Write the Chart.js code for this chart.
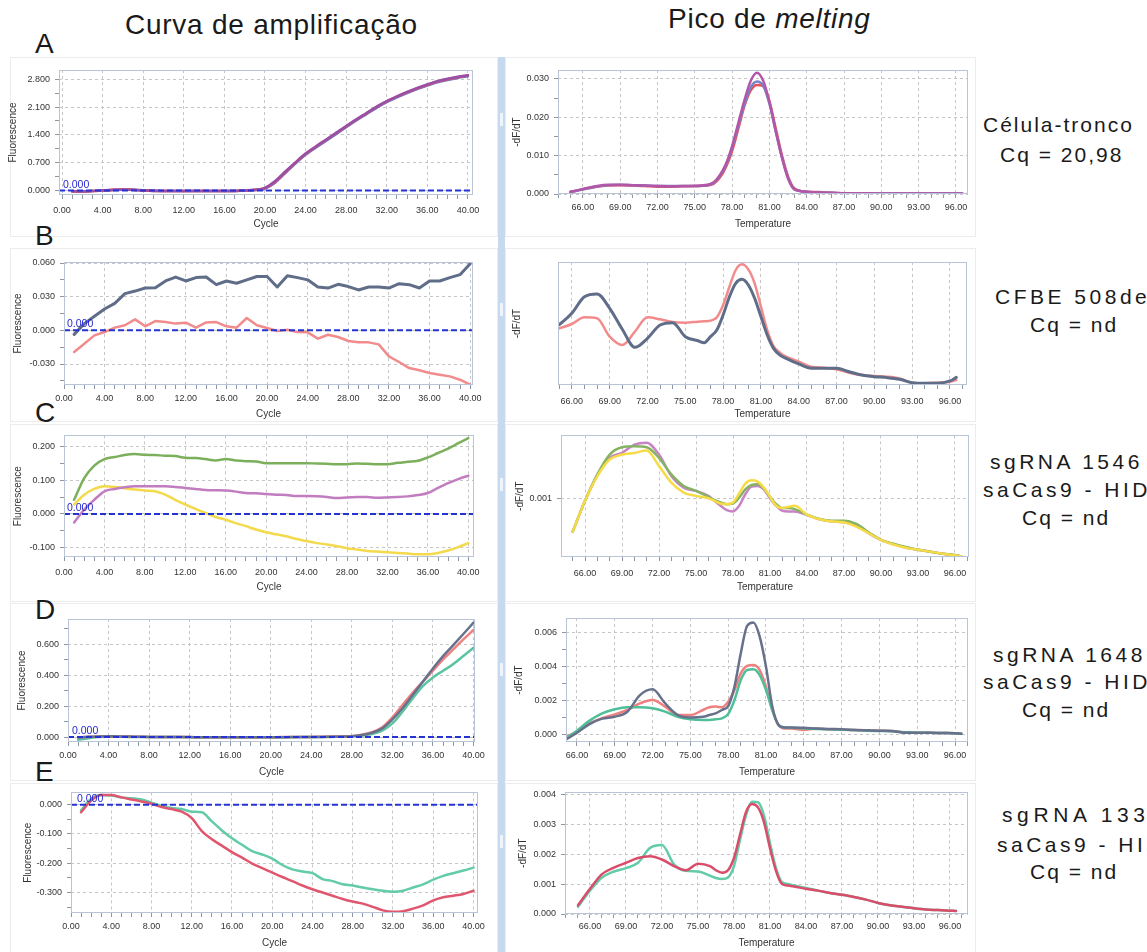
<!DOCTYPE html>
<html lang="pt">
<head>
<meta charset="utf-8">
<title>Curva de amplificação e pico de melting</title>
<script src="https://cdn.jsdelivr.net/npm/chart.js@4.4.1/dist/chart.umd.min.js"></script>
<style>
html,body{margin:0;padding:0;background:#fff}
body{position:relative;width:1147px;height:952px;overflow:hidden;font-family:"Liberation Sans",Arial,sans-serif;color:#1a1a1a}
canvas.plot{position:absolute}
.t{position:absolute;white-space:nowrap;line-height:1}
.head{font-size:28px;letter-spacing:0.75px}
.tag{font-size:28px}
.side{position:absolute;white-space:nowrap;font-size:21px;letter-spacing:2px;line-height:28px}
.wide{letter-spacing:3.5px}
.frame{position:absolute;border:1px solid #ececec;box-sizing:border-box}
.bar{position:absolute;left:498px;top:57px;width:7px;height:895px;background:#c7d9ee}
.notch{position:absolute;left:500px;width:3px;height:13px;background:#eef4fb}
</style>
</head>
<body>

<div class="frame" style="left:10px;top:57px;width:488px;height:180px"></div>
<div class="frame" style="left:10px;top:248px;width:488px;height:174px"></div>
<div class="frame" style="left:10px;top:424px;width:488px;height:178px"></div>
<div class="frame" style="left:10px;top:603px;width:488px;height:178px"></div>
<div class="frame" style="left:10px;top:783px;width:488px;height:175px"></div>
<div class="frame" style="left:505px;top:57px;width:471px;height:180px"></div>
<div class="frame" style="left:505px;top:248px;width:471px;height:174px"></div>
<div class="frame" style="left:505px;top:424px;width:471px;height:178px"></div>
<div class="frame" style="left:505px;top:603px;width:471px;height:178px"></div>
<div class="frame" style="left:505px;top:783px;width:471px;height:175px"></div>
<div class="bar"></div>
<div class="notch" style="top:113px"></div>
<div class="notch" style="top:303px"></div>
<div class="notch" style="top:478px"></div>
<div class="notch" style="top:663px"></div>
<div class="notch" style="top:835px"></div>

<div class="t head" style="left:125px;top:11px">Curva de amplificação</div>
<div class="t head" style="left:668px;top:5px">Pico de <i>melting</i></div>

<div class="t tag" style="left:35px;top:30px">A</div>
<div class="t tag" style="left:35px;top:222px">B</div>
<div class="t tag" style="left:35px;top:399px">C</div>
<div class="t tag" style="left:35px;top:596px">D</div>
<div class="t tag" style="left:35px;top:758px">E</div>

<div class="side" style="left:983px;top:111px">Célula-tronco</div>
<div class="side" style="left:1000px;top:141px">Cq = 20,98</div>
<div class="side wide" style="left:995px;top:283px">CFBE 508del</div>
<div class="side" style="left:1030px;top:311px">Cq = nd</div>
<div class="side wide" style="left:990px;top:448px">sgRNA 1546</div>
<div class="side wide" style="left:983px;top:476px">saCas9 - HIDT</div>
<div class="side" style="left:1022px;top:504px">Cq = nd</div>
<div class="side wide" style="left:993px;top:641px">sgRNA 1648</div>
<div class="side wide" style="left:983px;top:668px">saCas9 - HIDT</div>
<div class="side" style="left:1022px;top:696px">Cq = nd</div>
<div class="side wide" style="left:1002px;top:801px;letter-spacing:4.6px">sgRNA 1331</div>
<div class="side wide" style="left:997px;top:831px">saCas9 - HIDT</div>
<div class="side" style="left:1030px;top:858px">Cq = nd</div>

<script>
// ---------- data ----------
const cycles = [1,2,3,4,5,6,7,8,9,10,11,12,13,14,15,16,17,18,19,20,21,22,23,24,25,26,27,28,29,30,31,32,33,34,35,36,37,38,39,40];
const meltTemps = [65,66,67,68,69,70,71,72,73,74,75,76,76.5,77,77.5,78,78.5,79,79.5,80,80.5,81,81.5,82,82.5,83,84,85,86,87,88,89,90,91,92,93,94,95,96,96.5];

const cycleTicks = [0,4,8,12,16,20,24,28,32,36,40];
const tempTicks = [66,69,72,75,78,81,84,87,90,93,96];
const thresholdValue = 0;
const thresholdLabel = '0.000';

// A - stem cell
const ampA_red    = [-0.02,-0.02,-0.01,0.00,0.02,0.03,0.02,0.00,-0.01,-0.01,-0.01,-0.01,-0.01,-0.01,-0.01,-0.01,-0.01,0.00,0.02,0.06,0.22,0.46,0.70,0.92,1.10,1.27,1.44,1.61,1.78,1.94,2.10,2.24,2.36,2.47,2.57,2.66,2.74,2.80,2.85,2.89];
const ampA_purple = [-0.01,-0.02,-0.01,0.01,0.02,0.03,0.02,0.01,0.00,-0.01,-0.01,-0.01,-0.01,-0.01,-0.01,-0.01,-0.01,0.00,0.02,0.07,0.24,0.48,0.71,0.93,1.11,1.28,1.45,1.62,1.79,1.95,2.11,2.25,2.37,2.48,2.58,2.67,2.75,2.81,2.86,2.90];
const ampA_blue   = [-0.02,-0.02,-0.01,0.00,0.01,0.02,0.02,0.00,-0.01,-0.01,-0.01,-0.01,-0.01,-0.01,-0.01,-0.01,-0.01,0.00,0.01,0.05,0.20,0.44,0.68,0.90,1.08,1.25,1.42,1.59,1.76,1.92,2.08,2.22,2.34,2.45,2.55,2.64,2.72,2.78,2.83,2.87];
const ampA_yTicks = [0,0.7,1.4,2.1,2.8];

const meltA_purple = [0.0006,0.0013,0.0020,0.0024,0.0024,0.0023,0.0022,0.0021,0.0020,0.0021,0.0021,0.0024,0.0030,0.0048,0.0078,0.0125,0.0185,0.0245,0.0295,0.0316,0.0295,0.0240,0.0165,0.0095,0.0040,0.0012,0.0006,0.0004,0.0003,0.0002,0.0002,0.0002,0.0001,0.0001,0.0001,0.0001,0.0001,0.0001,0.0001,0.0001];
const meltA_blue   = [0.0005,0.0012,0.0019,0.0023,0.0024,0.0023,0.0022,0.0021,0.0021,0.0021,0.0021,0.0023,0.0029,0.0046,0.0075,0.0120,0.0178,0.0235,0.0278,0.0293,0.0282,0.0235,0.0165,0.0097,0.0042,0.0013,0.0006,0.0004,0.0003,0.0002,0.0002,0.0001,0.0001,0.0001,0.0001,0.0001,0.0001,0.0001,0.0001,0.0001];
const meltA_red    = [0.0005,0.0012,0.0018,0.0022,0.0023,0.0022,0.0021,0.0019,0.0019,0.0020,0.0021,0.0022,0.0026,0.0042,0.0070,0.0112,0.0170,0.0230,0.0270,0.0284,0.0281,0.0242,0.0172,0.0102,0.0046,0.0015,0.0006,0.0005,0.0003,0.0002,0.0002,0.0001,0.0001,0.0001,0.0001,0.0001,0.0001,0.0001,0.0001,0.0001];
const meltA_yTicks = [0,0.01,0.02,0.03];

// B - CFBE 508del
const ampB_gray = [-0.0036,0.006,0.0125,0.019,0.024,0.0327,0.035,0.0377,0.038,0.044,0.0475,0.044,0.047,0.0475,0.0407,0.044,0.042,0.045,0.048,0.048,0.0386,0.0487,0.047,0.045,0.0386,0.0377,0.041,0.039,0.036,0.0386,0.0386,0.0377,0.0416,0.0407,0.0377,0.044,0.044,0.047,0.0496,0.0594];
const ampB_red  = [-0.0193,-0.0119,-0.0045,-0.0015,0.0024,0.0045,0.0098,0.0036,0.0083,0.0074,0.006,0.0068,0.0024,0.0071,0.0074,0.0036,0.0024,0.011,0.0045,0.0021,-0.0006,0.0006,-0.0015,-0.0018,-0.0074,-0.0039,-0.0059,-0.0095,-0.0107,-0.0107,-0.0125,-0.0232,-0.0282,-0.0336,-0.0356,-0.038,-0.0395,-0.041,-0.044,-0.0484];
const ampB_yTicks = [-0.03,0,0.03,0.06];

const meltB_gray = [49,58.3,71.8,74,62.3,45.3,30.6,38,48.8,50.7,39.3,36,34.4,39.3,44.7,56.9,71.8,82.7,85.9,81.3,70.5,55.6,40.7,29.8,24.4,21.7,17.1,13.6,13.6,13.6,10.8,8.1,6.8,6,4.6,1.9,1.4,1.4,3.3,6.2];
const meltB_red  = [46,49.6,55,54.2,39.3,32.5,43.4,55,53.4,51.2,50.7,51.5,51.8,52.3,55,65,79.9,93.5,98.1,94,82.7,63.7,44.7,31.7,26.3,23,19,14.9,14.1,12.7,10,8.1,7.3,6.8,5.4,1.9,1.4,1.9,2.7,4.1];

// C - sgRNA 1546
const ampC_green  = [0.042,0.106,0.143,0.162,0.168,0.174,0.177,0.175,0.174,0.172,0.171,0.166,0.165,0.162,0.158,0.162,0.158,0.156,0.155,0.150,0.150,0.150,0.150,0.150,0.149,0.148,0.147,0.147,0.149,0.148,0.147,0.147,0.151,0.154,0.157,0.167,0.180,0.193,0.209,0.224];
const ampC_purple = [-0.025,0.013,0.042,0.067,0.074,0.079,0.082,0.082,0.082,0.082,0.080,0.077,0.074,0.071,0.070,0.069,0.066,0.062,0.061,0.059,0.057,0.056,0.053,0.053,0.052,0.050,0.047,0.049,0.050,0.050,0.048,0.049,0.050,0.052,0.056,0.062,0.077,0.091,0.103,0.113];
const ampC_yellow = [0.028,0.057,0.074,0.082,0.080,0.076,0.072,0.069,0.067,0.057,0.042,0.028,0.015,0.003,-0.009,-0.017,-0.027,-0.036,-0.046,-0.054,-0.060,-0.066,-0.074,-0.080,-0.086,-0.090,-0.095,-0.101,-0.105,-0.109,-0.111,-0.113,-0.115,-0.117,-0.119,-0.119,-0.115,-0.108,-0.098,-0.086];
const ampC_yTicks = [-0.1,0,0.1,0.2];

const meltC_green  = [0.000495,0.000960,0.001360,0.001660,0.001770,0.001785,0.001770,0.001610,0.001360,0.001185,0.001110,0.001020,0.000970,0.000935,0.000910,0.000920,0.001010,0.001135,0.001200,0.001210,0.001150,0.001020,0.000910,0.000850,0.000850,0.000835,0.000750,0.000685,0.000660,0.000660,0.000610,0.000485,0.000370,0.000310,0.000260,0.000220,0.000190,0.000160,0.000140,0.000120];
const meltC_purple = [0.000495,0.000960,0.001350,0.001610,0.001685,0.001810,0.001840,0.001660,0.001335,0.001160,0.001110,0.001035,0.000960,0.000885,0.000820,0.000800,0.000885,0.001060,0.001175,0.001185,0.001135,0.001000,0.000885,0.000810,0.000800,0.000800,0.000745,0.000680,0.000650,0.000635,0.000585,0.000470,0.000370,0.000305,0.000255,0.000220,0.000190,0.000160,0.000135,0.000120];
const meltC_yellow = [0.000495,0.000960,0.001335,0.001585,0.001660,0.001685,0.001720,0.001485,0.001235,0.001085,0.001035,0.001000,0.000960,0.000920,0.000910,0.000935,0.001070,0.001220,0.001270,0.001250,0.001160,0.001020,0.000885,0.000850,0.000870,0.000885,0.000750,0.000680,0.000650,0.000635,0.000570,0.000470,0.000370,0.000300,0.000250,0.000220,0.000190,0.000160,0.000135,0.000120];
const meltC_yTicks = [0.001];

// D - sgRNA 1648
const ampD_gray = [-0.003,0.002,0.004,0.005,0.004,0.003,0.002,0.001,0.001,0.000,0.000,0.000,-0.001,-0.001,-0.001,-0.001,-0.001,-0.001,-0.001,-0.001,-0.001,0.000,0.000,0.000,0.001,0.002,0.003,0.005,0.013,0.028,0.056,0.114,0.186,0.272,0.358,0.444,0.524,0.595,0.667,0.740];
const ampD_red  = [-0.002,0.002,0.003,0.004,0.004,0.003,0.002,0.001,0.000,0.000,0.000,0.000,-0.001,-0.001,-0.001,-0.001,-0.001,-0.001,-0.001,-0.001,0.000,0.000,0.000,0.001,0.002,0.003,0.004,0.006,0.015,0.031,0.063,0.127,0.207,0.287,0.358,0.429,0.503,0.567,0.632,0.693];
const ampD_teal = [-0.018,-0.008,0.000,0.002,0.002,0.001,0.001,0.000,0.000,0.000,0.000,-0.001,-0.001,-0.001,-0.001,-0.001,-0.001,-0.001,-0.001,-0.001,-0.001,-0.001,0.000,0.000,0.000,0.001,0.002,0.004,0.010,0.019,0.041,0.088,0.164,0.250,0.330,0.386,0.429,0.472,0.524,0.578];
const ampD_yTicks = [0,0.2,0.4,0.6];

const meltD_gray = [-0.00037,0.0001,0.00061,0.00093,0.00104,0.00134,0.00232,0.00266,0.00183,0.00114,0.001,0.00104,0.00114,0.00124,0.00144,0.00167,0.00282,0.00479,0.0064,0.0066,0.00577,0.004,0.00164,0.00055,0.00041,0.00041,0.00039,0.00035,0.00032,0.0003,0.00026,0.00024,0.00022,0.0002,0.0001,0.0001,0.0001,0.00008,0.00006,0.00004];
const meltD_red  = [-0.00018,0.00016,0.00065,0.00095,0.00118,0.00144,0.00183,0.00203,0.00164,0.00114,0.00114,0.00144,0.0016,0.00164,0.0016,0.00193,0.00262,0.0036,0.00404,0.0041,0.0038,0.00282,0.00144,0.00055,0.00035,0.00035,0.00026,0.00035,0.0003,0.00028,0.00026,0.00024,0.00022,0.0002,0.00012,0.0001,0.0001,0.00008,0.00006,0.00004];
const meltD_teal = [-0.0003,0.00022,0.00081,0.00124,0.00148,0.0016,0.0016,0.00154,0.00134,0.00104,0.00089,0.00085,0.00085,0.00089,0.00095,0.0012,0.00203,0.00321,0.0038,0.00384,0.0035,0.00262,0.00144,0.00055,0.00041,0.00039,0.00035,0.00032,0.0003,0.00028,0.00026,0.00022,0.0002,0.00018,0.00012,0.0001,0.0001,0.00008,0.00006,0.00004];
const meltD_yTicks = [0,0.002,0.004,0.006];

// E - sgRNA 1331
const ampE_teal = [-0.019,0.020,0.033,0.031,0.025,0.022,0.018,0.007,-0.004,-0.011,-0.015,-0.024,-0.026,-0.057,-0.088,-0.115,-0.137,-0.159,-0.170,-0.184,-0.206,-0.221,-0.228,-0.234,-0.254,-0.261,-0.272,-0.276,-0.283,-0.289,-0.294,-0.297,-0.294,-0.283,-0.272,-0.256,-0.243,-0.234,-0.225,-0.215];
const ampE_red  = [-0.026,0.014,0.033,0.033,0.025,0.018,0.011,0.003,-0.008,-0.015,-0.024,-0.046,-0.090,-0.118,-0.140,-0.162,-0.181,-0.201,-0.217,-0.232,-0.247,-0.261,-0.276,-0.289,-0.300,-0.311,-0.322,-0.331,-0.338,-0.349,-0.361,-0.366,-0.364,-0.355,-0.344,-0.327,-0.316,-0.311,-0.305,-0.294];
const ampE_yTicks = [-0.3,-0.2,-0.1,0];

const meltE_teal = [0.00024,0.00078,0.00122,0.00142,0.00153,0.00171,0.0022,0.0023,0.00166,0.00144,0.00142,0.00128,0.0012,0.00117,0.00122,0.0016,0.00247,0.00329,0.00375,0.00373,0.00329,0.00237,0.00153,0.00106,0.001,0.00095,0.00087,0.00078,0.0007,0.00064,0.00057,0.00048,0.00037,0.00029,0.00024,0.00019,0.00015,0.00013,0.00011,0.0001];
const meltE_red  = [0.00029,0.00084,0.00133,0.00155,0.00171,0.00187,0.00193,0.00182,0.0016,0.00146,0.00168,0.0016,0.00146,0.00138,0.00146,0.00187,0.00264,0.0034,0.00367,0.00356,0.00307,0.0022,0.00144,0.001,0.00095,0.00092,0.00084,0.00078,0.0007,0.00064,0.00057,0.00048,0.00037,0.00029,0.00024,0.00019,0.00015,0.00013,0.00011,0.0001];
const meltE_yTicks = [0,0.001,0.002,0.003,0.004];

// ---------- drawing helpers ----------
Chart.defaults.font.family = '"Liberation Sans", Arial, sans-serif';
Chart.defaults.color = '#333';

const GRID = '#c6c6c6';
const PLOT_EDGE = '#b9c5d7';
const TICK_MARK = '#8d97aa';

// plot rectangle and threshold caption
const plotFrame = {
  id: 'plotFrame',
  afterDatasetsDraw(chart, args, o) {
    const {ctx, chartArea: a} = chart;
    ctx.save();
    ctx.strokeStyle = PLOT_EDGE;
    ctx.lineWidth = 1;
    ctx.strokeRect(Math.round(a.left) + 0.5, Math.round(a.top) + 0.5,
                   Math.round(a.right - a.left) - 1, Math.round(a.bottom - a.top) - 1);
    if (o && o.label) {
      const y = chart.scales.y.getPixelForValue(o.value);
      ctx.fillStyle = '#2626d2';
      ctx.font = '10.5px "Liberation Sans", Arial, sans-serif';
      ctx.textBaseline = 'alphabetic';
      ctx.fillText(o.label, a.left + o.dx, y - 3);
    }
    ctx.restore();
  }
};

// major ticks from a list plus unlabeled minor tick marks
function tickSet(major, minorStep) {
  return function (scale) {
    const out = major.map(v => ({value: v, major: true}));
    if (minorStep) {
      const base = major[0];
      const k0 = Math.ceil((scale.min - base) / minorStep - 1e-6);
      const k1 = Math.floor((scale.max - base) / minorStep + 1e-6);
      for (let k = k0; k <= k1; k++) {
        const v = base + k * minorStep;
        if (!major.some(m => Math.abs(m - v) < minorStep * 1e-3)) out.push({value: v, major: false});
      }
    }
    out.sort((p, q) => p.value - q.value);
    scale.ticks = out;
  };
}

function axis(o) {
  const cfg = {
    type: 'linear', min: o.min, max: o.max,
    afterFit: o.fit,
    ticks: {
      autoSkip: false, maxRotation: 0, minRotation: 0, padding: o.pad,
      color: '#333', font: {size: 9},
      callback: (v, i, t) => (t[i] && t[i].major) ? v.toFixed(o.dec) : ''
    },
    grid: {
      display: o.major !== null, drawOnChartArea: true, drawTicks: true, tickLength: 4, lineWidth: 1,
      color: c => (c.tick && c.tick.major && o.gridLines !== false) ? GRID : 'rgba(0,0,0,0)',
      tickColor: TICK_MARK, tickBorderDash: []
    },
    border: {display: false, dash: [3, 3]},
    title: {display: true, text: o.title, color: '#333', font: {size: 10}, padding: o.titlePad}
  };
  if (o.major) cfg.afterBuildTicks = tickSet(o.major, o.minor);
  else cfg.ticks.display = false;
  return cfg;
}

function series(xs, ys, color, order, smooth, width) {
  return {
    data: xs.map((x, i) => ({x: x, y: ys[i]})),
    borderColor: color, backgroundColor: color,
    borderWidth: width || 2.5, pointRadius: 0, pointHoverRadius: 0, fill: false,
    tension: smooth ? 0.4 : 0, cubicInterpolationMode: smooth ? 'monotone' : 'default',
    borderJoinStyle: 'round', borderCapStyle: 'round', order: order
  };
}

function thresholdLine(x0, x1) {
  return {
    data: [{x: x0, y: thresholdValue}, {x: x1, y: thresholdValue}],
    borderColor: '#2433d2', borderWidth: 2, borderDash: [6, 3],
    pointRadius: 0, fill: false, order: 0
  };
}

function drawPanel(p) {
  const cv = document.createElement('canvas');
  cv.className = 'plot';
  cv.width = p.box.w; cv.height = p.box.h;
  cv.style.left = p.box.x + 'px'; cv.style.top = p.box.y + 'px';
  cv.style.width = p.box.w + 'px'; cv.style.height = p.box.h + 'px';
  document.body.appendChild(cv);
  const right = p.box.x + p.box.w, bottom = p.box.y + p.box.h;
  p.x.fit = s => { s.height = bottom - p.plot.b; };
  p.y.fit = s => { s.width = p.plot.l - p.box.x; };
  const datasets = p.series.slice();
  if (p.threshold) datasets.unshift(thresholdLine(p.x.min, p.x.max));
  new Chart(cv, {
    type: 'line',
    data: {datasets: datasets},
    options: {
      responsive: false, animation: false, devicePixelRatio: 1, events: [],
      layout: {padding: {left: 0, top: p.plot.t - p.box.y, right: right - p.plot.r, bottom: 0}},
      plugins: {
        legend: {display: false}, tooltip: {enabled: false},
        plotFrame: p.threshold ? {label: thresholdLabel, value: thresholdValue, dx: p.threshold} : {}
      },
      scales: {x: axis(p.x), y: axis(p.y)}
    },
    plugins: [plotFrame]
  });
}

function ampX(min, max, pad, tpad) {
  return {min: min, max: max, major: cycleTicks, minor: 1, dec: 2, pad: pad, title: 'Cycle', titlePad: {top: 0, bottom: tpad}};
}
function meltX(min, max, pad, tpad) {
  return {min: min, max: max, major: tempTicks, minor: 1, dec: 2, pad: pad, title: 'Temperature', titlePad: {top: 0, bottom: tpad}};
}
function yAx(min, max, major, minor, title, tpad) {
  return {min: min, max: max, major: major, minor: minor, dec: 3, pad: 5, title: title, titlePad: {top: tpad, bottom: 0}};
}

// ---------- panels ----------
const AMP_X = 0, AMP_W = 495, MELT_X = 506, MELT_W = 469;

// A
drawPanel({
  box: {x: AMP_X, y: 58, w: AMP_W, h: 174}, plot: {l: 59, t: 70, r: 473, b: 195},
  x: ampX(-0.3, 40.5, 6.6, 2), y: yAx(-0.11, 3.03, ampA_yTicks, 0.35, 'Fluorescence', 7),
  threshold: 4, series: [
    series(cycles, ampA_purple, '#9a4fa6', 1, true),
    series(cycles, ampA_red, '#e0506a', 2, true),
    series(cycles, ampA_blue, '#6a78c4', 3, true)
  ]
});
drawPanel({
  box: {x: MELT_X, y: 58, w: MELT_W, h: 174}, plot: {l: 558, t: 70, r: 968, b: 194},
  x: meltX(64.0, 96.97, 4.6, 2), y: yAx(0, 0.0323, meltA_yTicks, 0.005, '-dF/dT', 5),
  series: [
    series(meltTemps, meltA_purple, '#b257a8', 1, true),
    series(meltTemps, meltA_blue, '#7884c6', 2, true),
    series(meltTemps, meltA_red, '#e8505c', 3, true)
  ]
});

// B
drawPanel({
  box: {x: AMP_X, y: 250, w: AMP_W, h: 170}, plot: {l: 64, t: 262, r: 473, b: 385},
  x: ampX(0, 40.28, 4.6, 0), y: yAx(-0.0487, 0.0609, ampB_yTicks, 0.015, 'Fluorescence', 12),
  threshold: 3, series: [
    series(cycles, ampB_gray, '#5f6d89', 1, false, 3),
    series(cycles, ampB_red, '#f28b8b', 2, false, 2.5)
  ]
});
drawPanel({
  box: {x: MELT_X, y: 250, w: MELT_W, h: 170}, plot: {l: 558, t: 262, r: 967, b: 385},
  x: meltX(64.9, 97.35, 7.6, 0),
  y: {min: 0, max: 100, major: null, dec: 0, pad: 5, title: '-dF/dT', titlePad: {top: 5, bottom: 0}},
  series: [
    series(meltTemps, meltB_gray, '#5f6d89', 1, true, 3),
    series(meltTemps, meltB_red, '#f28b8b', 2, true, 2.5)
  ]
});

// C
drawPanel({
  box: {x: AMP_X, y: 425, w: AMP_W, h: 175}, plot: {l: 64, t: 435, r: 474, b: 557},
  x: ampX(0, 40.56, 6.6, 7), y: yAx(-0.127, 0.232, ampC_yTicks, 0.05, 'Fluorescence', 12),
  threshold: 3, series: [
    series(cycles, ampC_green, '#7caf5c', 1, true),
    series(cycles, ampC_purple, '#c27cc0', 2, true),
    series(cycles, ampC_yellow, '#f3da4c', 3, true)
  ]
});
drawPanel({
  box: {x: MELT_X, y: 425, w: MELT_W, h: 175}, plot: {l: 561, t: 434, r: 969, b: 557},
  x: meltX(64.05, 97.14, 7.6, 7), y: yAx(0.00011, 0.00195, meltC_yTicks, 0, '-dF/dT', 8),
  series: [
    series(meltTemps, meltC_green, '#86b264', 2, true),
    series(meltTemps, meltC_purple, '#c883c4', 3, true),
    series(meltTemps, meltC_yellow, '#f5dc46', 1, true)
  ]
});

// D
drawPanel({
  box: {x: AMP_X, y: 605, w: AMP_W, h: 175}, plot: {l: 68, t: 619, r: 475, b: 742},
  x: ampX(0, 40.15, 4.6, 2), y: yAx(-0.032, 0.764, ampD_yTicks, 0.1, 'Fluorescence', 16),
  threshold: 4, series: [
    series(cycles, ampD_gray, '#67718c', 1, true),
    series(cycles, ampD_red, '#f08080', 2, true),
    series(cycles, ampD_teal, '#5cc4a0', 3, true)
  ]
});
drawPanel({
  box: {x: MELT_X, y: 605, w: MELT_W, h: 175}, plot: {l: 566, t: 618, r: 968, b: 742},
  x: meltX(65.13, 97.03, 4.6, 2), y: yAx(-0.00045, 0.00687, meltD_yTicks, 0.001, '-dF/dT', 7),
  series: [
    series(meltTemps, meltD_gray, '#67718c', 1, true),
    series(meltTemps, meltD_red, '#f08080', 3, true),
    series(meltTemps, meltD_teal, '#4fbf98', 2, true)
  ]
});

// E
drawPanel({
  box: {x: AMP_X, y: 782, w: AMP_W, h: 170}, plot: {l: 71, t: 790, r: 478, b: 913},
  x: ampX(0, 40.45, 4.6, 3), y: yAx(-0.37, 0.042, ampE_yTicks, 0.05, 'Fluorescence', 22),
  threshold: 6, series: [
    series(cycles, ampE_teal, '#62cba8', 2, true),
    series(cycles, ampE_red, '#e0566e', 1, true)
  ]
});
drawPanel({
  box: {x: MELT_X, y: 782, w: MELT_W, h: 170}, plot: {l: 565, t: 790, r: 968, b: 914},
  x: meltX(63.92, 97.5, 3.6, 3), y: yAx(0, 0.00406, meltE_yTicks, 0, '-dF/dT', 11),
  series: [
    series(meltTemps, meltE_teal, '#62cba8', 2, true),
    series(meltTemps, meltE_red, '#d94d6a', 1, true)
  ]
});
</script>
</body>
</html>
